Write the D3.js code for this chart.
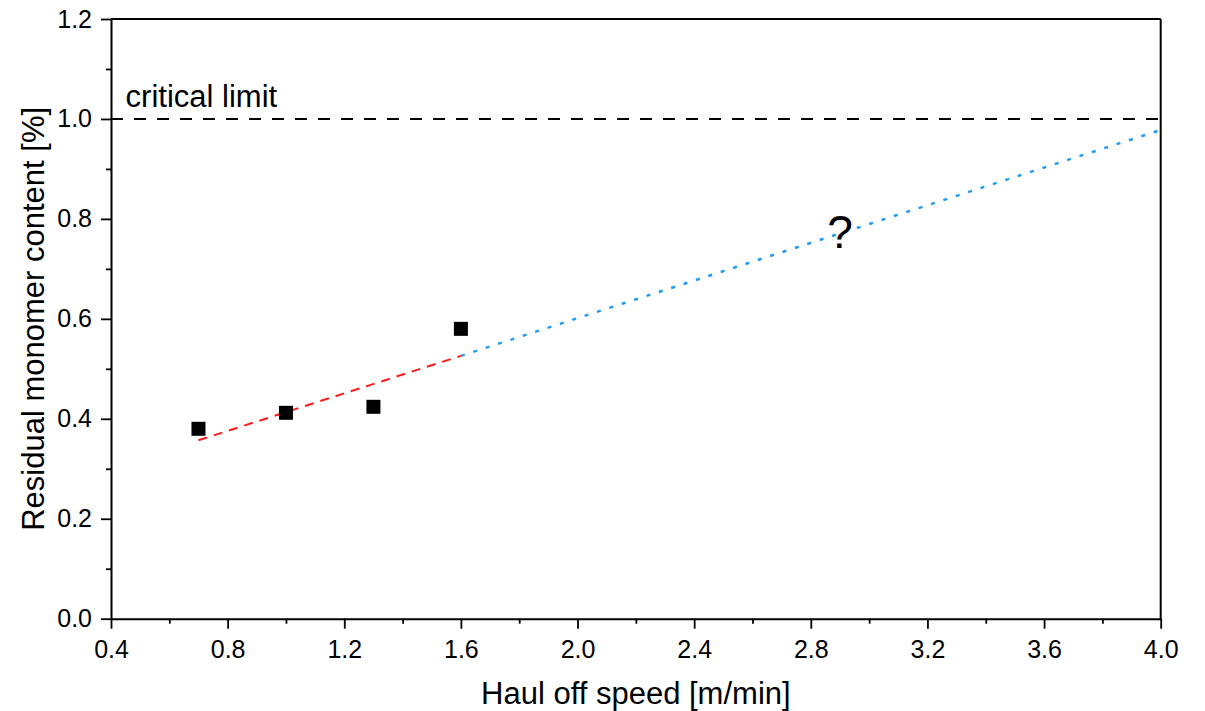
<!DOCTYPE html>
<html>
<head>
<meta charset="utf-8">
<script src="https://cdn.jsdelivr.net/npm/d3@7"></script>
<style>
  body { margin: 0; background: #fff; }
  svg { font-family: "Liberation Sans", Arial, sans-serif; }
</style>
</head>
<body>
<svg id="svg1" width="1205" height="711"></svg>
<script>
// measured points
var speed = [0.7, 1.0, 1.3, 1.6];
var monomer = [0.38, 0.412, 0.424, 0.58];

// linear fit (red, dashed) and its extrapolation (blue, dotted)
var fitLine = [[0.7, 0.357], [1.6, 0.526]];
var extLine = [[1.6, 0.526], [4.0, 0.978]];
var criticalLimit = 1.0;

var xTicks = [0.4, 0.8, 1.2, 1.6, 2.0, 2.4, 2.8, 3.2, 3.6, 4.0];
var xMinor = [0.6, 1.0, 1.4, 1.8, 2.2, 2.6, 3.0, 3.4, 3.8];
var yTicks = [0.0, 0.2, 0.4, 0.6, 0.8, 1.0, 1.2];
var yMinor = [0.1, 0.3, 0.5, 0.7, 0.9, 1.1];

var width = 1205;
var height = 711;
var marginLeft = 111;
var marginTop = 19;
var marginRight = 44.3;
var marginBottom = 92.3;

var w = width - marginLeft - marginRight;
var h = height - marginTop - marginBottom;

var svg = d3.select('svg')
    .append('g')
    .attr('transform', 'translate(' + marginLeft + ',' + marginTop + ')');

var x = d3.scaleLinear().domain([0.4, 4.0]).range([0, w]);
var y = d3.scaleLinear().domain([0, 1.2]).range([h, 0]);

// minor ticks first (no labels)
svg.append('g')
    .attr('transform', 'translate(0,' + h + ')')
    .call(d3.axisBottom(x).tickValues(xMinor).tickSize(5).tickFormat(''))
    .call(function(g){ g.select('.domain').remove(); });
svg.append('g')
    .call(d3.axisLeft(y).tickValues(yMinor).tickSize(5).tickFormat(''))
    .call(function(g){ g.select('.domain').remove(); });

// major ticks
var xAxis = svg.append('g')
    .attr('transform', 'translate(0,' + h + ')')
    .call(d3.axisBottom(x).tickValues(xTicks).tickSize(10).tickPadding(12).tickSizeOuter(0)
        .tickFormat(d3.format('.1f')));
var yAxis = svg.append('g')
    .call(d3.axisLeft(y).tickValues(yTicks).tickSize(10).tickPadding(9).tickSizeOuter(0)
        .tickFormat(d3.format('.1f')));

svg.selectAll('.tick line').attr('stroke', '#000').attr('stroke-width', 1.8);
svg.selectAll('.domain').attr('stroke', '#000').attr('stroke-width', 2);
svg.selectAll('.tick text')
    .attr('font-family', '"Liberation Sans", Arial, sans-serif')
    .attr('font-size', 25)
    .attr('fill', '#000');

// frame top and right
svg.append('line').attr('x1', 0).attr('x2', w).attr('y1', 0).attr('y2', 0)
    .attr('stroke', '#000').attr('stroke-width', 2);
svg.append('line').attr('x1', w).attr('x2', w).attr('y1', 0).attr('y2', h)
    .attr('stroke', '#000').attr('stroke-width', 2);

// critical limit
svg.append('line')
    .attr('x1', x(0.4)).attr('x2', x(4.0))
    .attr('y1', y(criticalLimit)).attr('y2', y(criticalLimit))
    .attr('stroke', '#000').attr('stroke-width', 2)
    .attr('stroke-dasharray', '12,11');

var line = d3.line()
    .x(function(d){ return x(d[0]); })
    .y(function(d){ return y(d[1]); });

svg.append('path')
    .datum(extLine)
    .attr('d', line)
    .attr('fill', 'none')
    .attr('stroke', '#1f9bf0')
    .attr('stroke-width', 2.5)
    .attr('stroke-dasharray', '4,9');

svg.append('path')
    .datum(fitLine)
    .attr('d', line)
    .attr('fill', 'none')
    .attr('stroke', '#ff1a1a')
    .attr('stroke-width', 2)
    .attr('stroke-dasharray', '9,7');

// data squares
var sq = 14;
svg.selectAll('rect.pt')
    .data(speed)
    .enter()
    .append('rect')
    .attr('class', 'pt')
    .attr('x', function(d){ return x(d) - sq/2; })
    .attr('y', function(d, i){ return y(monomer[i]) - sq/2; })
    .attr('width', sq)
    .attr('height', sq)
    .attr('fill', '#000');

// annotations
svg.append('text')
    .attr('x', x(0.45))
    .attr('y', y(1.023))
    .attr('font-size', 31)
    .text('critical limit');

svg.append('text')
    .attr('x', x(2.9))
    .attr('y', y(0.742))
    .attr('text-anchor', 'middle')
    .attr('font-size', 46)
    .text('?');

// axis titles
svg.append('text')
    .attr('x', w / 2)
    .attr('y', h + 85)
    .attr('text-anchor', 'middle')
    .attr('font-size', 31)
    .text('Haul off speed [m/min]');

svg.append('text')
    .attr('transform', 'translate(' + (44 - marginLeft) + ',' + (h / 2) + ') rotate(-90)')
    .attr('text-anchor', 'middle')
    .attr('font-size', 31)
    .text('Residual monomer content [%]');
</script>
</body>
</html>
